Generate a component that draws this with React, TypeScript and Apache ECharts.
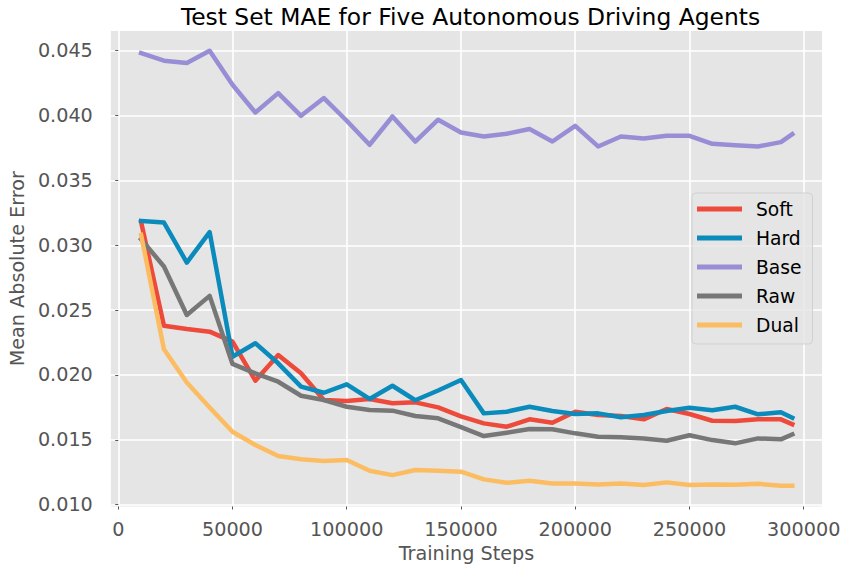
import React, { useEffect, useRef } from "react";
import * as echarts from "echarts";

const steps = [10000, 20000, 30000, 40000, 50000, 60000, 70000, 80000, 90000, 100000,
  110000, 120000, 130000, 140000, 150000, 160000, 170000, 180000, 190000, 200000,
  210000, 220000, 230000, 240000, 250000, 260000, 270000, 280000, 290000, 295000];

const soft = [0.0318, 0.0238, 0.02355, 0.02334, 0.02257, 0.01956, 0.02154, 0.02013, 0.01807, 0.01799,
  0.01815, 0.01782, 0.01789, 0.0175, 0.01681, 0.01627, 0.01601, 0.01658, 0.01632, 0.01717,
  0.01691, 0.01684, 0.01658, 0.01738, 0.01699, 0.01647, 0.01645, 0.01658, 0.01658, 0.0162];
const hard = [0.03188, 0.03175, 0.02867, 0.03101, 0.02141, 0.02245, 0.0209, 0.0191, 0.01863, 0.01928,
  0.01815, 0.01917, 0.01805, 0.0188, 0.01961, 0.01704, 0.01717, 0.01755, 0.01722, 0.01699,
  0.01704, 0.01674, 0.01691, 0.01722, 0.01748, 0.01728, 0.01755, 0.01697, 0.01712, 0.0167];
const base = [0.04482, 0.04423, 0.04405, 0.045, 0.04238, 0.04024, 0.04173, 0.03998, 0.04135, 0.0396,
  0.03775, 0.03993, 0.038, 0.03968, 0.0387, 0.03839, 0.0386, 0.03896, 0.038, 0.03921,
  0.03762, 0.03839, 0.03823, 0.03844, 0.03844, 0.03782, 0.03772, 0.03762, 0.03795, 0.03857];
const raw = [0.03047, 0.02836, 0.02463, 0.0261, 0.02085, 0.02013, 0.01948, 0.0184, 0.01807, 0.01755,
  0.0173, 0.01725, 0.01684, 0.01666, 0.01598, 0.01529, 0.01555, 0.01583, 0.01581, 0.0155,
  0.01524, 0.01519, 0.01511, 0.01493, 0.01535, 0.01498, 0.01473, 0.01511, 0.01504, 0.01542];
const dual = [0.0308, 0.02198, 0.01942, 0.0175, 0.01562, 0.0146, 0.01375, 0.0135, 0.01336, 0.01344,
  0.01262, 0.01228, 0.01267, 0.01262, 0.01254, 0.01195, 0.01169, 0.01184, 0.01164, 0.01164,
  0.01156, 0.01164, 0.01151, 0.01172, 0.01151, 0.01156, 0.01154, 0.01161, 0.01146, 0.01146];

const seriesNames = ["Soft", "Hard", "Base", "Raw", "Dual"];
const seriesValues = [soft, hard, base, raw, dual];
const colors = ["#EE4A3B", "#0B8BBC", "#988ED5", "#777777", "#FCBD62"];

const xTicks = [0, 50000, 100000, 150000, 200000, 250000, 300000];
const yTicks = [0.01, 0.015, 0.02, 0.025, 0.03, 0.035, 0.04, 0.045];

const FONT = "DejaVu Sans";

export default function App() {
  const ref = useRef<HTMLDivElement>(null);
  useEffect(() => {
    if (!ref.current) return;
    const chart = echarts.init(ref.current, undefined, { renderer: "svg" });
    chart.setOption({
      animation: false,
      backgroundColor: "#ffffff",
      textStyle: { fontFamily: FONT },
      title: {
        text: "Test Set MAE for Five Autonomous Driving Agents",
        left: 465.5,
        textAlign: "center",
        top: 0,
        textStyle: { fontFamily: FONT, fontSize: 23.4, fontWeight: "normal", color: "#000" },
      },
      grid: {
        left: 109,
        right: 26,
        top: 31,
        bottom: 66.5,
        show: true,
        backgroundColor: "#E5E5E5",
        borderWidth: 0,
      },
      legend: {
        orient: "vertical",
        left: 692,
        top: 193,
        padding: [5, 11, 8, 5],
        itemGap: 7,
        itemWidth: 45,
        itemHeight: 5,
        icon: "rect",
        backgroundColor: "rgba(229,229,229,0.8)",
        borderColor: "rgba(204,204,204,0.8)",
        borderWidth: 1,
        borderRadius: 4,
        itemStyle: { borderWidth: 0 },
        textStyle: { fontFamily: FONT, fontSize: 18.7, color: "#000", lineHeight: 22, padding: [0, 0, 0, 9] },
        data: seriesNames,
      },
      xAxis: {
        type: "value",
        min: -3250,
        max: 308000,
        name: "Training Steps",
        nameLocation: "middle",
        nameGap: 37,
        nameTextStyle: { fontFamily: FONT, fontSize: 19.2, color: "#555" },
        axisLine: { show: false },
        axisTick: { show: true, length: 3, customValues: xTicks, lineStyle: { color: "#555", width: 1 } },
        axisLabel: {
          customValues: xTicks,
          margin: 13,
          fontFamily: FONT,
          fontSize: 19.2,
          color: "#555",
          formatter: (v: number) => String(Math.round(v)),
        },
        splitLine: { show: true, lineStyle: { color: "#ffffff", width: 1.6 } },
      },
      yAxis: {
        type: "value",
        min: 0.00986,
        max: 0.04652,
        name: "Mean Absolute Error",
        nameLocation: "middle",
        nameGap: 78,
        nameTextStyle: { fontFamily: FONT, fontSize: 19.2, color: "#555" },
        axisLine: { show: false },
        axisTick: { show: true, length: 3, customValues: yTicks, lineStyle: { color: "#555", width: 1 } },
        axisLabel: {
          customValues: yTicks,
          margin: 18,
          fontFamily: FONT,
          fontSize: 19.2,
          color: "#555",
          formatter: (v: number) => v.toFixed(3),
        },
        splitLine: { show: true, lineStyle: { color: "#ffffff", width: 1.6 } },
      },
      series: seriesNames.map((name, k) => ({
        name,
        type: "line",
        data: steps.map((s, i) => [s, seriesValues[k][i]]),
        showSymbol: false,
        symbol: "none",
        color: colors[k],
        lineStyle: { color: colors[k], width: 4.5, cap: "square", join: "round" },
        emphasis: { disabled: true },
      })),
    });
    return () => chart.dispose();
  }, []);
  return (
    <div
      ref={ref}
      style={{ position: "fixed", left: 0, top: 0, width: 848, height: 573 }}
    />
  );
}
